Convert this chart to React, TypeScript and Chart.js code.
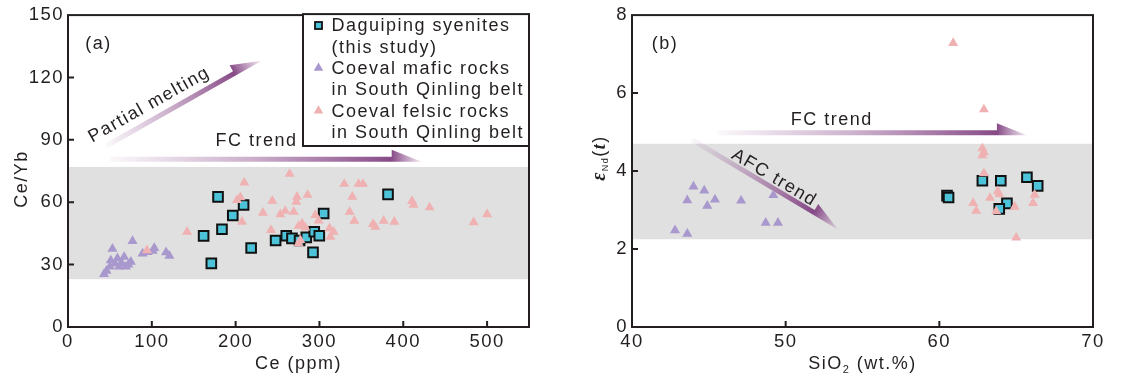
import React, { useEffect, useRef } from "react";
import { Chart, registerables } from "chart.js";

Chart.register(...registerables);

const SANS = '"Liberation Sans", Arial, Helvetica, sans-serif';
const SERIF = '"Liberation Serif", "Times New Roman", serif';
const INK = "#231f20";
const CYAN = "#4dc3d9";
const LILAC = "#a898cd";
const PINK = "#efb1b1";
const BAND = "#e0e0e0";
const SPACING = "1.5px";

// ---------------- Panel (a): Ce/Yb vs Ce ----------------
const ceTicks = [0, 100, 200, 300, 400, 500];
const ceYbTicks = [0, 30, 60, 90, 120, 150];
const ceRange = [0, 550];
const ceYbRange = [0, 150];
const ceYbBand = [23, 77];

const daguipingCe = [179, 209.5, 196.6, 183.7, 161.8, 218.5, 171, 247.7, 260.4, 267.2, 276.3, 284.3, 293.8, 299.8, 292.3, 305, 381.8];
const daguipingCeYb = [62.6, 58.7, 53.6, 47, 43.8, 38, 30.6, 41.6, 43.9, 42.6, 41.6, 43.1, 45.8, 43.9, 35.9, 54.6, 63.8];

const maficCe = [43, 53, 77, 51, 59, 67, 50, 61, 69, 75, 89, 95, 103, 101, 117, 121, 46, 56, 64, 72];
const maficCeYb = [25.5, 37.6, 41.3, 32, 33, 33.7, 29, 29, 29, 31.3, 35.3, 36, 38, 36.6, 35.9, 34.2, 27, 30.5, 30.7, 30];

const felsicCe = [94.2, 142, 210.3, 264.4, 201.6, 205.6, 207.6, 232.6, 243.7, 253.3, 259.2, 269.2, 273.2, 272.4, 285.9, 242.2, 275.1, 279.2, 283.1, 277.1, 275.1, 295, 299, 312, 316.9, 313, 329.6, 346.7, 352, 339.2, 336, 341.6, 363.9, 366.6, 376.6, 389.3, 410.4, 412.3, 431.4, 484, 500];
const felsicCeYb = [36.9, 45.8, 69.4, 73.6, 61, 62.4, 50.6, 54.9, 60.7, 54.2, 55.8, 55.4, 62.6, 60.2, 63.5, 46.6, 48.6, 49.7, 47.8, 41.8, 40.2, 53.8, 51.2, 47.5, 45.8, 43.4, 68.8, 68.8, 68.8, 62.6, 55.4, 51.1, 49.5, 48.2, 51.1, 50.6, 60.6, 58.7, 57.5, 50.3, 54.2];

// ---------------- Panel (b): eNd(t) vs SiO2 ----------------
const sio2Ticks = [40, 50, 60, 70];
const endTicks = [0, 2, 4, 6, 8];
const sio2Range = [40, 70];
const endRange = [0, 8];
const endBand = [2.25, 4.7];

const daguipingSiO2 = [60.5, 60.6, 62.8, 64.0, 65.7, 66.4, 64.4, 63.9];
const daguipingENd = [3.37, 3.32, 3.75, 3.75, 3.84, 3.62, 3.17, 3.03];

const maficSiO2 = [42.8, 43.6, 44.0, 43.6, 44.7, 45.4, 44.9, 47.1, 49.2, 48.7, 49.5];
const maficENd = [2.48, 2.39, 3.6, 3.25, 3.5, 3.27, 3.11, 3.24, 3.38, 2.67, 2.67];

const felsicSiO2 = [60.9, 62.9, 62.8, 62.9, 62.8, 62.9, 63.8, 63.9, 63.3, 62.2, 62.4, 63.7, 64.9, 65.0, 66.2, 66.1];
const felsicENd = [7.28, 5.58, 4.58, 4.48, 4.4, 3.94, 3.48, 3.4, 3.31, 3.18, 2.98, 2.97, 3.08, 2.29, 3.39, 3.18];

// ---------------- Legend / annotation text ----------------
const legendRows = [
  { marker: "square", lines: ["Daguiping syenites", "(this study)"] },
  { marker: "mafic", lines: ["Coeval mafic rocks", "in South Qinling belt"] },
  { marker: "felsic", lines: ["Coeval felsic rocks", "in South Qinling belt"] },
];

type Pt = { x: number; y: number };
const zip = (xs: number[], ys: number[]): Pt[] => xs.map((x, i) => ({ x, y: ys[i] }));

type Seg = { t: string; font: string; dy?: number };
type Deco = {
  band: number[];
  arrows: { from: number[]; to: number[] }[];
  labels: { text: string; at: number[]; rot?: number }[];
  panel: { text: string; x: number; y: number };
  xTitle: { segs: Seg[]; x: number; y: number };
  yTitle: { segs: Seg[]; x: number; y: number };
  legend: boolean;
};

function drawRich(ctx: CanvasRenderingContext2D, segs: Seg[], cx: number, cy: number, rot: number) {
  ctx.save();
  ctx.translate(cx, cy);
  ctx.rotate(rot);
  (ctx as any).letterSpacing = SPACING;
  ctx.textAlign = "left";
  ctx.textBaseline = "alphabetic";
  ctx.fillStyle = INK;
  let total = 0;
  const widths = segs.map((s) => {
    ctx.font = s.font;
    const w = ctx.measureText(s.t).width;
    total += w;
    return w;
  });
  let x = -total / 2;
  segs.forEach((s, i) => {
    ctx.font = s.font;
    ctx.fillText(s.t, x, 6.5 + (s.dy || 0));
    x += widths[i];
  });
  ctx.restore();
}

function drawArrow(ctx: CanvasRenderingContext2D, x1: number, y1: number, x2: number, y2: number) {
  const w = 5, L = 30, h = 7;
  const dx = x2 - x1, dy = y2 - y1;
  const len = Math.hypot(dx, dy);
  const ang = Math.atan2(dy, dx);
  ctx.save();
  ctx.translate(x1, y1);
  ctx.rotate(ang);
  const g = ctx.createLinearGradient(0, 0, len, 0);
  const hb = (len - L) / len;
  g.addColorStop(0, "rgba(140,78,140,0.04)");
  g.addColorStop(hb * 0.5, "rgba(140,78,140,0.45)");
  g.addColorStop(hb, "rgba(128,64,128,0.95)");
  g.addColorStop(1, "rgba(150,90,150,0.12)");
  ctx.fillStyle = g;
  ctx.beginPath();
  ctx.moveTo(0, 0);
  ctx.lineTo(len, 0);
  ctx.lineTo(len - L, -(w + h));
  ctx.lineTo(len - L, -w);
  ctx.lineTo(0, -w);
  ctx.closePath();
  ctx.fill();
  ctx.restore();
}

function marker(ctx: CanvasRenderingContext2D, kind: string, x: number, y: number) {
  ctx.save();
  if (kind === "square") {
    ctx.fillStyle = CYAN;
    ctx.strokeStyle = "#111";
    ctx.lineWidth = 1.8;
    ctx.fillRect(x - 3.5, y - 3.5, 7, 7);
    ctx.strokeRect(x - 3.5, y - 3.5, 7, 7);
  } else {
    const r = 5.5;
    ctx.fillStyle = kind === "mafic" ? LILAC : PINK;
    ctx.beginPath();
    ctx.moveTo(x, y - r);
    ctx.lineTo(x + r * 0.866, y + r * 0.5);
    ctx.lineTo(x - r * 0.866, y + r * 0.5);
    ctx.closePath();
    ctx.fill();
  }
  ctx.restore();
}

function decoPlugin(d: Deco) {
  return {
    id: "deco",
    beforeDraw(chart: any) {
      chart.ctx.letterSpacing = SPACING;
    },
    beforeDatasetsDraw(chart: any) {
      const { ctx, chartArea: ca, scales } = chart;
      const xs = scales.x, ys = scales.y;
      ctx.save();
      const yTop = ys.getPixelForValue(d.band[1]);
      const yBot = ys.getPixelForValue(d.band[0]);
      ctx.fillStyle = BAND;
      ctx.fillRect(ca.left, yTop, ca.right - ca.left, yBot - yTop);
      d.arrows.forEach((a) => {
        drawArrow(ctx, xs.getPixelForValue(a.from[0]), ys.getPixelForValue(a.from[1]), xs.getPixelForValue(a.to[0]), ys.getPixelForValue(a.to[1]));
      });
      d.labels.forEach((l) => {
        drawRich(ctx, [{ t: l.text, font: `18px ${SANS}` }], xs.getPixelForValue(l.at[0]), ys.getPixelForValue(l.at[1]), ((l.rot || 0) * Math.PI) / 180);
      });
      ctx.restore();
    },
    afterDatasetsDraw(chart: any) {
      const { ctx, chartArea: ca, scales } = chart;
      const xs = scales.x, ys = scales.y;
      ctx.save();
      ctx.strokeStyle = INK;
      ctx.lineWidth = 2;
      ctx.strokeRect(ca.left, ca.top, ca.right - ca.left, ca.bottom - ca.top);
      ctx.beginPath();
      xs.ticks.forEach((t: any) => {
        const p = xs.getPixelForValue(t.value);
        if (p > ca.left + 1 && p < ca.right - 1) {
          ctx.moveTo(p, ca.bottom);
          ctx.lineTo(p, ca.bottom - 6);
        }
      });
      ys.ticks.forEach((t: any) => {
        const p = ys.getPixelForValue(t.value);
        if (p > ca.top + 1 && p < ca.bottom - 1) {
          ctx.moveTo(ca.left, p);
          ctx.lineTo(ca.left + 6, p);
        }
      });
      ctx.stroke();

      drawRich(ctx, [{ t: d.panel.text, font: `18px ${SANS}` }], d.panel.x, d.panel.y, 0);
      drawRich(ctx, d.xTitle.segs, d.xTitle.x, d.xTitle.y, 0);
      drawRich(ctx, d.yTitle.segs, d.yTitle.x, d.yTitle.y, -Math.PI / 2);

      if (d.legend) {
        const lx = 303, ly = ca.top - 1, rx = ca.right, by = 146;
        ctx.fillStyle = "#fff";
        ctx.fillRect(lx, ly, rx - lx, by - ly);
        ctx.strokeStyle = INK;
        ctx.lineWidth = 2;
        ctx.strokeRect(lx, ly, rx - lx, by - ly);
        ctx.font = `18px ${SANS}`;
        ctx.letterSpacing = SPACING;
        ctx.fillStyle = INK;
        ctx.textAlign = "left";
        ctx.textBaseline = "middle";
        let row = 0;
        const y0 = 25.5, step = 21.3;
        legendRows.forEach((r) => {
          marker(ctx, r.marker, 318.5, y0 + row * step);
          r.lines.forEach((ln) => {
            ctx.fillStyle = INK;
            ctx.fillText(ln, 331.5, y0 + row * step + 1);
            row++;
          });
        });
      }
      ctx.restore();
    },
  };
}

function makeConfig(
  series: { sq: Pt[]; maf: Pt[]; fel: Pt[] },
  xr: number[], yr: number[], xt: number[], yt: number[],
  pad: { top: number; right: number }, yWidth: number, deco: Deco
): any {
  const tickFont = { family: SANS, size: 18.5 };
  return {
    type: "scatter",
    data: {
      datasets: [
        { label: "felsic", data: series.fel, pointStyle: "triangle", pointRadius: 5.8, pointBackgroundColor: PINK, pointBorderWidth: 0, pointBorderColor: "rgba(0,0,0,0)" },
        { label: "mafic", data: series.maf, pointStyle: "triangle", pointRadius: 5.8, pointBackgroundColor: LILAC, pointBorderWidth: 0, pointBorderColor: "rgba(0,0,0,0)" },
        { label: "Daguiping", data: series.sq, pointStyle: "rect", pointRadius: 6.8, pointBackgroundColor: CYAN, pointBorderWidth: 2, pointBorderColor: "#111" },
      ],
    },
    options: {
      animation: false,
      responsive: false,
      maintainAspectRatio: false,
      events: [],
      layout: { padding: { left: 0, top: pad.top, right: pad.right, bottom: 0 } },
      plugins: { legend: { display: false }, tooltip: { enabled: false } },
      scales: {
        x: {
          type: "linear",
          min: xr[0],
          max: xr[1],
          afterFit: (s: any) => { s.height = 62; },
          afterBuildTicks: (s: any) => { s.ticks = xt.map((v) => ({ value: v })); },
          grid: { display: false, drawTicks: false },
          border: { display: false },
          ticks: { padding: 4, font: tickFont, color: INK, maxRotation: 0 },
        },
        y: {
          type: "linear",
          min: yr[0],
          max: yr[1],
          afterFit: (s: any) => { s.width = yWidth; },
          afterBuildTicks: (s: any) => { s.ticks = yt.map((v) => ({ value: v })); },
          grid: { display: false, drawTicks: false },
          border: { display: false },
          ticks: { padding: 4, font: tickFont, color: INK },
        },
      },
    },
    plugins: [decoPlugin(deco)],
  };
}

export default function App() {
  const refA = useRef<HTMLCanvasElement>(null);
  const refB = useRef<HTMLCanvasElement>(null);

  useEffect(() => {
    const f18 = `18px ${SANS}`;
    const cfgA = makeConfig(
      { sq: zip(daguipingCe, daguipingCeYb), maf: zip(maficCe, maficCeYb), fel: zip(felsicCe, felsicCeYb) },
      ceRange, ceYbRange, ceTicks, ceYbTicks, { top: 15, right: 31 }, 68,
      {
        band: ceYbBand,
        arrows: [
          { from: [47, 86], to: [231, 128] },
          { from: [50, 79.5], to: [422, 79.5] },
        ],
        labels: [
          { text: "Partial melting", at: [96, 107.5], rot: -29.5 },
          { text: "FC trend", at: [225, 90] },
        ],
        panel: { text: "(a)", x: 98.5, y: 42 },
        xTitle: { segs: [{ t: "Ce (ppm)", font: f18 }], x: 298.5, y: 362 },
        yTitle: { segs: [{ t: "Ce/Yb", font: f18 }], x: 20, y: 179 },
        legend: true,
      }
    );
    const cfgB = makeConfig(
      { sq: zip(daguipingSiO2, daguipingENd), maf: zip(maficSiO2, maficENd), fel: zip(felsicSiO2, felsicENd) },
      sio2Range, endRange, sio2Ticks, endTicks, { top: 12, right: 36 }, 72,
      {
        band: endBand,
        arrows: [
          { from: [45.6, 4.92], to: [65.7, 4.92] },
          { from: [43.8, 4.75], to: [53.4, 2.5] },
        ],
        labels: [
          { text: "FC trend", at: [53, 5.34] },
          { text: "AFC trend", at: [49.3, 3.86], rot: 30.8 },
        ],
        panel: { text: "(b)", x: 105, y: 42 },
        xTitle: {
          segs: [
            { t: "SiO", font: f18 },
            { t: "2", font: `11px ${SANS}`, dy: 4 },
            { t: " (wt.%)", font: f18 },
          ],
          x: 302.5,
          y: 362,
        },
        yTitle: {
          segs: [
            { t: "ε", font: `italic bold 20px ${SERIF}` },
            { t: "Nd", font: `9px ${SANS}`, dy: 3 },
            { t: "(", font: f18 },
            { t: "t", font: `italic bold 18px ${SERIF}` },
            { t: ")", font: f18 },
          ],
          x: 38,
          y: 158,
        },
        legend: false,
      }
    );
    const a = new Chart(refA.current as HTMLCanvasElement, cfgA);
    const b = new Chart(refB.current as HTMLCanvasElement, cfgB);
    return () => {
      a.destroy();
      b.destroy();
    };
  }, []);

  return (
    <div style={{ position: "absolute", left: 0, top: 0, width: 1129, height: 389, background: "#fff" }}>
      <canvas ref={refA} width={560} height={389} style={{ position: "absolute", left: 0, top: 0, width: 560, height: 389 }} />
      <canvas ref={refB} width={569} height={389} style={{ position: "absolute", left: 560, top: 0, width: 569, height: 389 }} />
    </div>
  );
}
